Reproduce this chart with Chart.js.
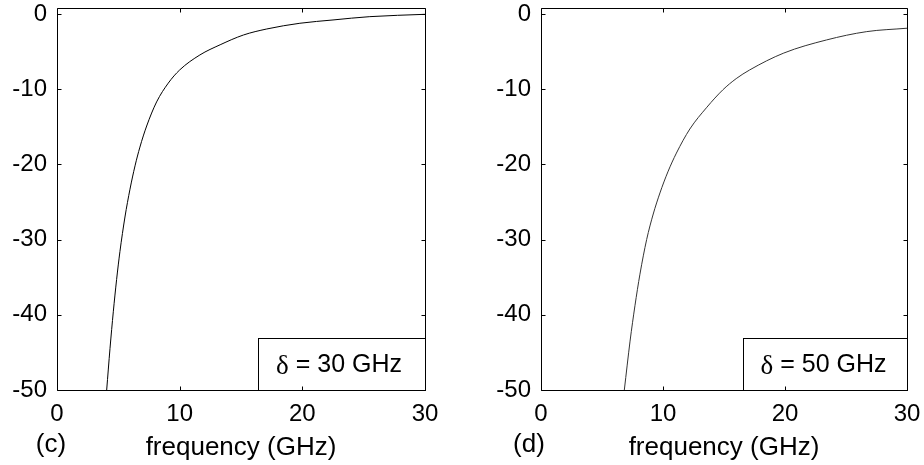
<!DOCTYPE html>
<html>
<head>
<meta charset="utf-8">
<script src="https://cdn.jsdelivr.net/npm/chart.js@4.4.1/dist/chart.umd.min.js"></script>
<style>
  html, body { margin: 0; padding: 0; background: #fff; }
  #wrap { position: relative; width: 924px; height: 465px; overflow: hidden; }
  .panel { position: absolute; top: 0; }
</style>
</head>
<body>
<div id="wrap">
  <div class="panel" style="left:0px"><canvas id="chartC" width="460" height="465"></canvas></div>
  <div class="panel" style="left:460px"><canvas id="chartD" width="464" height="465"></canvas></div>
</div>
<script>
// panel (c): delta = 30 GHz
const freqC = [4.05, 4.32, 4.59, 4.86, 5.13, 5.54, 5.95, 6.36, 6.76, 7.31, 8.12, 9.07, 10.0, 11.65, 13.3, 15.2, 17.1, 19.8, 22.5, 25.5, 30];
const lossC = [-50, -44.5, -39.6, -35.3, -31.6, -27.0, -23.3, -20.2, -17.7, -14.9, -11.7, -9.2, -7.45, -5.45, -4.1, -2.8, -2.0, -1.24, -0.8, -0.36, -0.05];

// panel (d): delta = 50 GHz
const freqD = [6.83, 7.3, 7.7, 8.11, 8.66, 9.2, 9.75, 10.4, 11.1, 12.2, 13.6, 14.9, 16.0, 17.1, 19.9, 23.4, 26.7, 30];
const lossD = [-50, -43.5, -38.8, -34.6, -30.0, -26.6, -23.8, -21.0, -18.5, -15.3, -12.4, -10.1, -8.6, -7.45, -5.2, -3.46, -2.35, -1.9];

const xTicks = [0, 10, 20, 30];
const yTicks = [-50, -40, -30, -20, -10, 0];
const xTitle = 'frequency (GHz)';

const SANS = "'Liberation Sans', Arial, sans-serif";
const SERIF = "'Liberation Serif', 'Times New Roman', serif";

// frame, inward ticks, delta box and panel letter (MATLAB look)
const framePlugin = {
    id: 'frame',
    afterDraw(chart, args, opts) {
        const ctx = chart.ctx;
        const a = chart.chartArea;
        const x = chart.scales.x, y = chart.scales.y;
        const L = Math.round(a.left) + 0.5, R = Math.round(a.right) + 0.5;
        const T = Math.round(a.top) + 0.5, B = Math.round(a.bottom) + 0.5;
        ctx.save();
        ctx.strokeStyle = '#000';
        ctx.lineWidth = 1;

        // delta box
        const bx = Math.round(a.right - opts.boxW) + 0.5, by = Math.round(a.bottom - opts.boxH) + 0.5;
        ctx.fillStyle = '#fff';
        ctx.fillRect(bx, by, R - bx, B - by);
        ctx.strokeRect(bx, by, R - bx, B - by);

        ctx.beginPath();
        ctx.rect(L, T, R - L, B - T);
        x.ticks.forEach(t => {
            const px = Math.round(x.getPixelForValue(t.value)) + 0.5;
            ctx.moveTo(px, B); ctx.lineTo(px, B - 4);
            ctx.moveTo(px, T); ctx.lineTo(px, T + 4);
        });
        y.ticks.forEach(t => {
            const py = Math.round(y.getPixelForValue(t.value)) + 0.5;
            ctx.moveTo(L, py); ctx.lineTo(L + 4, py);
            ctx.moveTo(R, py); ctx.lineTo(R - 4, py);
        });
        ctx.stroke();

        // delta label
        ctx.fillStyle = '#000';
        ctx.textBaseline = 'middle';
        ctx.textAlign = 'left';
        ctx.font = '27px ' + SERIF;
        const wd = ctx.measureText('δ').width;
        ctx.font = '25px ' + SANS;
        const rest = ' = ' + opts.label;
        const wr = ctx.measureText(rest).width;
        const tx = (bx + R) / 2 - (wd + wr) / 2 + opts.textShift;
        const ty = (by + B) / 2 + 1;
        ctx.font = '27px ' + SERIF;
        ctx.fillText('δ', tx, ty + 1);
        ctx.font = '25px ' + SANS;
        ctx.fillText(rest, tx + wd, ty);

        // panel letter
        ctx.textAlign = 'center';
        ctx.font = '26px ' + SANS;
        ctx.fillText(opts.letter, opts.letterX, 445);
        ctx.restore();
    }
};

function makeChart(id, xs, ys, color, yWidth, padRight, extra) {
    const pts = xs.map((v, i) => ({x: v, y: ys[i]}));
    return new Chart(document.getElementById(id), {
        type: 'line',
        data: {
            datasets: [{
                data: pts,
                borderColor: color,
                borderWidth: 1,
                pointRadius: 0,
                fill: false,
                cubicInterpolationMode: 'monotone'
            }]
        },
        options: {
            responsive: false,
            animation: false,
            devicePixelRatio: 1,
            layout: { padding: { left: 0, right: padRight, top: 0, bottom: 0 } },
            plugins: {
                legend: { display: false },
                tooltip: { enabled: false },
                frame: extra
            },
            scales: {
                x: {
                    type: 'linear',
                    min: 0, max: 30,
                    afterBuildTicks: s => { s.ticks = xTicks.map(v => ({value: v})); },
                    afterFit: s => { s.height = 75; },
                    grid: { drawOnChartArea: false, drawTicks: true, tickLength: 10, tickColor: 'rgba(0,0,0,0)' },
                    border: { display: false },
                    ticks: { color: '#000', padding: 0, maxRotation: 0, font: { family: SANS, size: 24, lineHeight: 1.2 } },
                    title: { display: true, text: xTitle, color: '#000', padding: { top: 0, bottom: 2 }, font: { family: SANS, size: 26, lineHeight: 1.2 } }
                },
                y: {
                    type: 'linear',
                    min: -50, max: 0.8,
                    afterBuildTicks: s => { s.ticks = yTicks.map(v => ({value: v})); },
                    afterFit: s => { s.width = yWidth; },
                    grid: { drawOnChartArea: false, drawTicks: true, tickLength: 10, tickColor: 'rgba(0,0,0,0)' },
                    border: { display: false },
                    ticks: { color: '#000', padding: 0, font: { family: SANS, size: 24, lineHeight: 0.66 } }
                }
            }
        },
        plugins: [framePlugin]
    });
}

makeChart('chartC', freqC, lossC, '#000', 57, 35,
    { boxW: 167, boxH: 52, label: '30 GHz', textShift: -3, letter: '(c)', letterX: 51 });
makeChart('chartD', freqD, lossD, '#333', 81, 17,
    { boxW: 164, boxH: 52, label: '50 GHz', textShift: -2, letter: '(d)', letterX: 69 });
</script>
</body>
</html>
